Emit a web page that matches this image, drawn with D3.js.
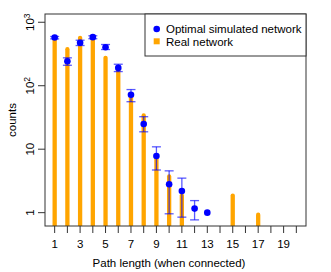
<html>
<head>
<script src="https://cdn.jsdelivr.net/npm/d3@7"></script>
<style>
  body { margin: 0; background: white; }
  text { font-family: 'Liberation Sans', Arial, sans-serif; fill: black; }
</style>
</head>
<body>
<div id="chart"></div>
<script>
// real network: path length histogram
var realLen = [1, 2, 3, 4, 5, 6, 7, 8, 9, 10, 11, 15, 17];
var realCount = [570, 404, 612, 590, 296, 185, 70, 36.6, 8, 4, 2, 2, 1];

// optimal simulated network: mean with error range
var simLen = [1, 2, 3, 4, 5, 6, 7, 8, 9, 10, 11, 12, 13];
var simCount = [575, 243, 474, 582, 404, 191, 72, 25, 7.8, 2.8, 2.2, 1.16, 1.0];
var simLo = [547, 210, 430, 550, 372, 167, 56, 18.8, 4.7, 0.96, 0.85, 0.77, 1.0];
var simHi = [596, 275, 521, 612, 446, 218, 87, 32.5, 10.9, 4.56, 3.5, 1.55, 1.0];

var xTicks = d3.range(1, 21);
var xLabels = d3.range(1, 20, 2);
var yTicks = [1, 10, 100, 1000];
var legendLabels = ['Optimal simulated network', 'Real network'];

var width = 331, height = 272;
var plotL = 45, plotR = 306, plotT = 14, plotB = 226;
var fs = 11.5;

var svg = d3.select('#chart').append('svg')
    .attr('width', width)
    .attr('height', height);

var x = d3.scaleLinear().domain([0.24, 20.76]).range([plotL, plotR]);
var y = d3.scaleLog().domain([Math.pow(10, -0.21), Math.pow(10, 3.13)]).range([plotB, plotT]);

svg.append('clipPath').attr('id', 'plotclip')
    .append('rect')
    .attr('x', plotL).attr('y', plotT)
    .attr('width', plotR - plotL).attr('height', plotB - plotT);

var plot = svg.append('g').attr('clip-path', 'url(#plotclip)');

// orange bars
plot.selectAll('line.bar')
    .data(realLen.map(function(d, i){ return {len: d, n: realCount[i]}; }))
    .enter().append('line')
    .attr('class', 'bar')
    .attr('x1', function(d){ return x(d.len); })
    .attr('x2', function(d){ return x(d.len); })
    .attr('y1', function(d){ return y(d.n) + 2; })
    .attr('y2', plotB + 5)
    .attr('stroke', '#FFA500')
    .attr('stroke-width', 4.3)
    .attr('stroke-linecap', 'round');

var sim = simLen.map(function(d, i){
    return {len: d, n: simCount[i], lo: simLo[i], hi: simHi[i]};
});
var withErr = sim.filter(function(d){ return d.hi > d.lo; });

// error bars
var eb = plot.selectAll('g.err')
    .data(withErr)
    .enter().append('g')
    .attr('class', 'err')
    .attr('stroke', '#0000FF')
    .attr('stroke-opacity', 0.65)
    .attr('stroke-width', 1.3);

eb.append('line')
    .attr('x1', function(d){ return x(d.len); })
    .attr('x2', function(d){ return x(d.len); })
    .attr('y1', function(d){ return y(d.lo); })
    .attr('y2', function(d){ return y(d.hi); });

eb.append('line')
    .attr('x1', function(d){ return x(d.len) - 4.5; })
    .attr('x2', function(d){ return x(d.len) + 4.5; })
    .attr('y1', function(d){ return y(d.lo); })
    .attr('y2', function(d){ return y(d.lo); });

eb.append('line')
    .attr('x1', function(d){ return x(d.len) - 4.5; })
    .attr('x2', function(d){ return x(d.len) + 4.5; })
    .attr('y1', function(d){ return y(d.hi); })
    .attr('y2', function(d){ return y(d.hi); });

// blue points
plot.selectAll('circle.pt')
    .data(sim)
    .enter().append('circle')
    .attr('class', 'pt')
    .attr('cx', function(d){ return x(d.len); })
    .attr('cy', function(d){ return y(d.n); })
    .attr('r', 3.3)
    .attr('fill', '#0000FF');

// box
svg.append('rect')
    .attr('x', plotL).attr('y', plotT)
    .attr('width', plotR - plotL).attr('height', plotB - plotT)
    .attr('fill', 'none')
    .attr('stroke', '#333')
    .attr('stroke-width', 1);

// x axis
svg.selectAll('line.xt')
    .data(xTicks)
    .enter().append('line')
    .attr('x1', function(d){ return x(d); })
    .attr('x2', function(d){ return x(d); })
    .attr('y1', plotB)
    .attr('y2', plotB + 7)
    .attr('stroke', '#333');

svg.selectAll('text.xl')
    .data(xLabels)
    .enter().append('text')
    .attr('x', function(d){ return x(d); })
    .attr('y', 247.5)
    .attr('text-anchor', 'middle')
    .attr('font-size', fs)
    .text(function(d){ return d; });

svg.append('text')
    .attr('x', 169)
    .attr('y', 266.5)
    .attr('text-anchor', 'middle')
    .attr('font-size', fs)
    .text('Path length (when connected)');

// y axis
svg.selectAll('line.yt')
    .data(yTicks)
    .enter().append('line')
    .attr('x1', plotL - 7)
    .attr('x2', plotL)
    .attr('y1', function(d){ return y(d); })
    .attr('y2', function(d){ return y(d); })
    .attr('stroke', '#333');

var yl = svg.selectAll('text.yl')
    .data(yTicks)
    .enter().append('text')
    .attr('transform', function(d){ return 'translate(34,' + y(d) + ') rotate(-90)'; })
    .attr('text-anchor', 'middle')
    .attr('font-size', fs);

yl.each(function(d){
    var t = d3.select(this);
    if (d < 100) {
        t.text(d);
    } else {
        t.append('tspan').text('10');
        t.append('tspan')
            .attr('dy', -4.5)
            .attr('font-size', 8.5)
            .text(Math.round(Math.log10(d)));
    }
});

svg.append('text')
    .attr('transform', 'translate(16,' + ((plotT + plotB) / 2) + ') rotate(-90)')
    .attr('text-anchor', 'middle')
    .attr('font-size', fs)
    .text('counts');

// legend
var lg = svg.append('g');
lg.append('rect')
    .attr('x', 145).attr('y', plotT)
    .attr('width', plotR - 145).attr('height', 42)
    .attr('fill', 'white')
    .attr('stroke', '#333');

lg.append('circle')
    .attr('cx', 156.7).attr('cy', 29)
    .attr('r', 3.3)
    .attr('fill', '#0000FF');

lg.append('rect')
    .attr('x', 153.7).attr('y', 38.3)
    .attr('width', 6).attr('height', 6)
    .attr('fill', '#FFA500');

lg.selectAll('text')
    .data(legendLabels)
    .enter().append('text')
    .attr('x', 166)
    .attr('y', function(d, i){ return 33 + i * 12.5; })
    .attr('font-size', fs)
    .text(function(d){ return d; });
</script>
</body>
</html>
